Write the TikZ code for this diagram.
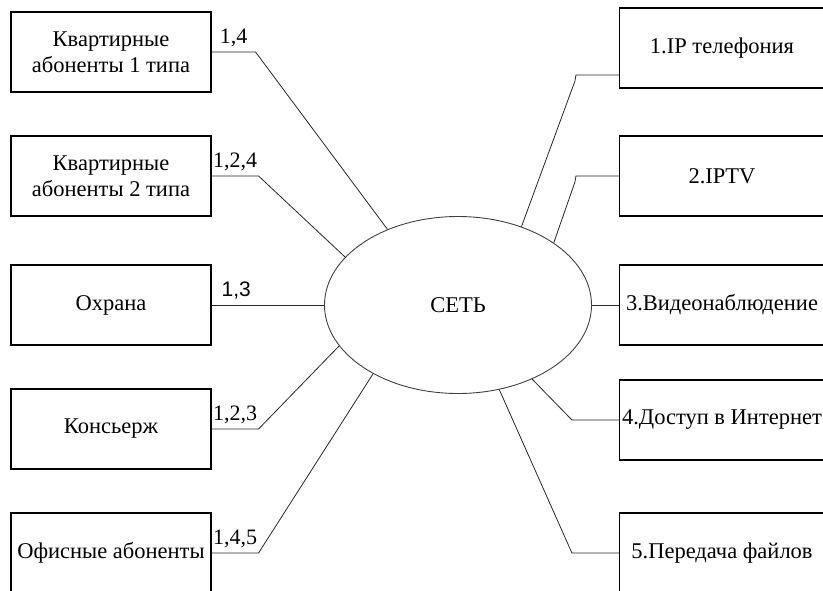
\documentclass[tikz,border=0pt]{standalone}
\usepackage{fontspec}
\setmainfont{Liberation Serif}
\newfontfamily\arialfont{Liberation Sans}
\usepackage{tikz}
\usetikzlibrary{shapes.geometric}

\begin{document}
\begin{tikzpicture}[x=1pt, y=-1pt,
    box/.style={draw, line width=1.1pt, minimum width=200pt, minimum height=80pt,
                inner xsep=0pt, align=center, font=\fontsize{22.5}{25.5}\selectfont},
    svc/.style={box, minimum width=205pt},
    link/.style={line width=0.8pt, black!85},
    lbl/.style={above, inner sep=5pt, text=black, font=\fontsize{22}{25}\selectfont}]
    \useasboundingbox (0,0) rectangle (823,590);

    % Network cloud
    \node[ellipse, draw, black!75, line width=0.9pt, minimum width=267pt, minimum height=177pt,
          inner sep=0pt, text=black, font=\fontsize{22.5}{25}\selectfont] (net) at (458,305) {СЕТЬ};

    % Subscribers (left)
    \node[box] (kv1) at (111,52) {Квартирные\\абоненты 1 типа};
    \node[box] (kv2) at (111,176) {Квартирные\\абоненты 2 типа};
    \node[box] (ohr) at (111,305) {Охрана};
    \node[box] (kons) at (111,429) {Консьерж};
    \node[box] (ofis) at (111,553) {Офисные абоненты};

    % Services (right)
    \node[svc] (ipt) at (722,48) {1.IP телефония};
    \node[svc] (tv) at (722,176) {2.IPTV};
    \node[svc] (video) at (722,305) {3.Видеонаблюдение};
    \node[svc] (inet) at (722,420) {4.Доступ в Интернет};
    \node[svc] (files) at (722,553) {5.Передача файлов};

    % Left links with service numbers
    \draw[link] (kv1.east) -- ++(44,0) node[lbl, midway] {1,4} -- (net.133.5);
    \draw[link] (kv2.east) -- ++(47,0) node[lbl, midway] {1,2,4} -- (net.157.9);
    \draw[link] (ohr.east) -- node[lbl, pos=0.22, font=\arialfont\fontsize{21}{25}\selectfont] {1,3} (net.180);
    \draw[link] (kons.east) -- ++(47,0) node[lbl, midway] {1,2,3} -- (net.199.6);
    \draw[link] (ofis.east) -- ++(47,0) node[lbl, midway] {1,4,5} -- (net.219.5);

    % Right links
    \draw[link] ([yshift=-27pt]ipt.west) -- ++(-43,0) -- ++(-1,6) -- (net.51.6);
    \draw[link] (tv.west) -- ++(-43,0) -- ++(-1,6) -- (net.33.6);
    \draw[link] (video.west) -- (net.0);
    \draw[link] (inet.west) -- ++(-47,0) -- (net.-45);
    \draw[link] (files.west) -- ++(-47,0) -- (net.-64);
\end{tikzpicture}
\end{document}
